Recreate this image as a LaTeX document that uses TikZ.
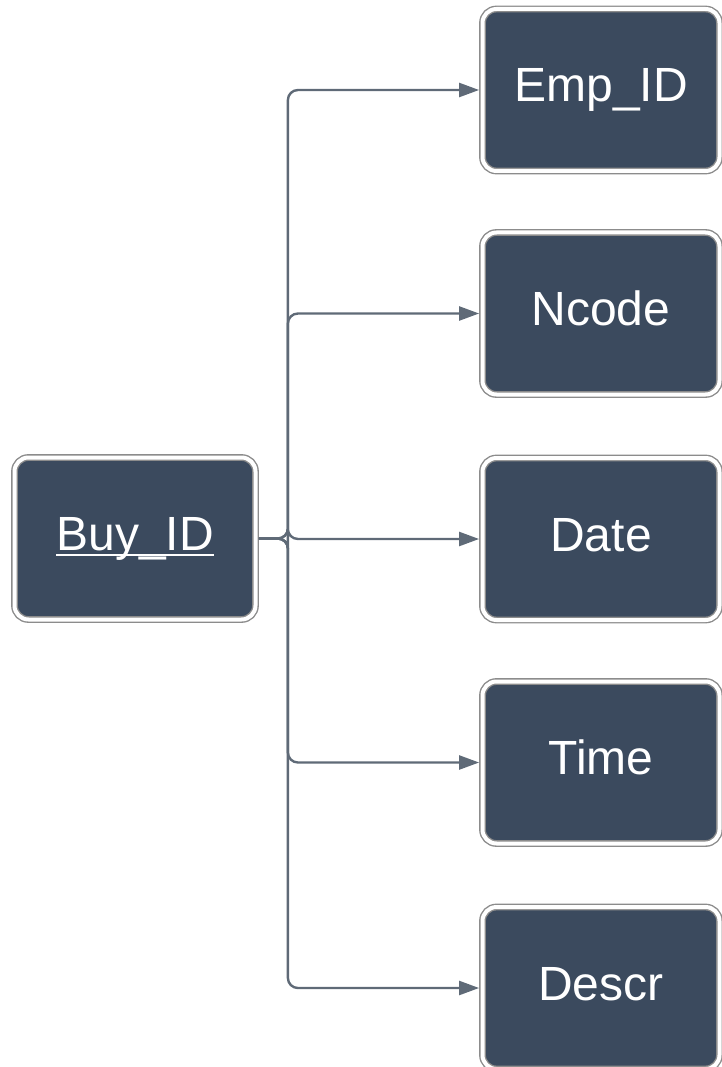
\documentclass[tikz,border=0pt]{standalone}
\usepackage{fontspec}
\setmainfont{Liberation Sans}
\usetikzlibrary{arrows.meta}
\definecolor{boxfill}{HTML}{3B4A5E}
\definecolor{linkgray}{HTML}{5F6A77}
\definecolor{rimgray}{HTML}{8C8C8C}
\newcommand\keyline[1]{\setbox0\hbox{#1}\rlap{\rule[-5pt]{\wd0}{2pt}}\box0}

\begin{document}
\begin{tikzpicture}[x=1pt,y=-1pt,>={Triangle[length=20pt,width=14pt]},
    attr/.style={draw=rimgray,line width=1.4pt,double=white,double distance=4pt,
      fill=boxfill,rounded corners=14pt,minimum width=237pt,minimum height=162pt,
      inner sep=0pt,outer sep=3.4pt,text=white,text height=34pt,text depth=10pt,
      font=\fontsize{48}{52}\selectfont},
    link/.style={->,linkgray,line width=2.4pt,rounded corners=10pt}]
  \useasboundingbox (0,0) rectangle (722,1067);
  \node[attr,minimum width=241pt] (buy) at (135,538.5) {\keyline{Buy\_ID}};
  \foreach \y/\n/\t in {90/emp/Emp\_ID,313.5/ncode/Ncode,539/date/Date,
                        762.5/time/Time,988/descr/Descr}
    \node[attr] (\n) at (601,\y) {\t};
  % one fork from the key to every attribute
  \foreach \n in {emp,ncode,date,time,descr}
    \draw[link] (buy.east) -- ++(29,0) |- (\n.west);
\end{tikzpicture}
\end{document}
